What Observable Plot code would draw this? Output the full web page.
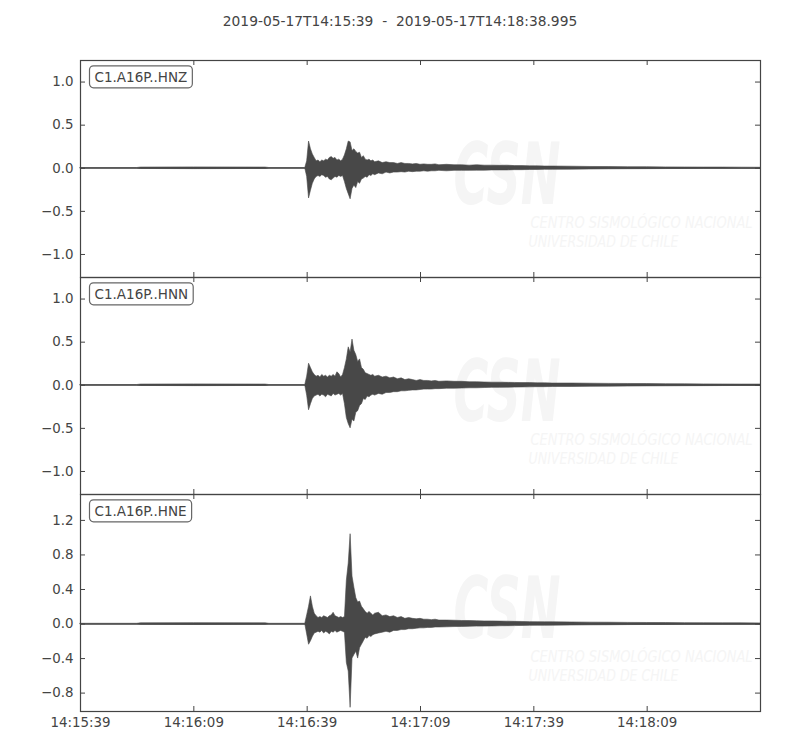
<!DOCTYPE html>
<html>
<head>
<meta charset="utf-8">
<script src="https://cdn.jsdelivr.net/npm/d3@7"></script>
<script src="https://cdn.jsdelivr.net/npm/@observablehq/plot@0.6"></script>
<style>
  body { margin: 0; background: white; font-family: "DejaVu Sans", sans-serif; }
  #title { height: 46px; padding-top: 13px; line-height: 16px; font-size: 13.8px; color: #444; text-align: center; white-space: pre; }
  #chart svg { display: block; }
  #chart svg + svg { margin-top: -2px; }
</style>
</head>
<body>
<div id="title">2019-05-17T14:15:39  -  2019-05-17T14:18:38.995</div>
<div id="chart"></div>
<script>
// seconds after 14:15:39
const times = [0, 15, 16, 30, 49, 50, 59.5,
  60, 60.5, 61, 61.5, 62, 62.5, 63, 63.5, 64, 64.5, 65, 65.5, 66, 66.5, 67, 67.5, 68, 68.5, 69, 69.5,
  70, 70.5, 71, 71.5, 72, 72.5, 73, 73.5, 74, 74.5, 75, 75.5, 76, 76.5, 77, 77.5, 78,
  79, 80, 81, 82, 83, 84, 85, 86, 87, 88, 89, 90, 91, 92, 93, 94, 95,
  97, 99, 101, 103, 105, 107, 109, 111, 113, 115, 117, 119, 121, 123, 125,
  130, 135, 140, 145, 150, 155, 160, 165, 170, 175, 180];

// envelope of each trace (upper / lower)
const hnzTop = [0.003, 0.003, 0.008, 0.01, 0.008, 0.003, 0.003,
  0.08, 0.31, 0.22, 0.16, 0.12, 0.08, 0.09, 0.07, 0.09, 0.08, 0.1, 0.09, 0.12, 0.13, 0.11, 0.12, 0.09, 0.1, 0.08, 0.1,
  0.15, 0.22, 0.31, 0.3, 0.2, 0.22, 0.19, 0.17, 0.18, 0.12, 0.14, 0.1, 0.09, 0.1, 0.08, 0.09, 0.07,
  0.08, 0.06, 0.07, 0.06, 0.06, 0.05, 0.06, 0.05, 0.05, 0.045, 0.05, 0.04, 0.045, 0.04, 0.04, 0.045, 0.035,
  0.04, 0.035, 0.035, 0.03, 0.035, 0.03, 0.03, 0.028, 0.03, 0.025, 0.025, 0.022, 0.022, 0.02, 0.02,
  0.018, 0.015, 0.014, 0.012, 0.012, 0.01, 0.009, 0.008, 0.008, 0.007, 0.006];
const hnzBot = [-0.003, -0.003, -0.008, -0.01, -0.008, -0.003, -0.003,
  -0.1, -0.35, -0.26, -0.18, -0.13, -0.1, -0.09, -0.1, -0.08, -0.09, -0.11, -0.1, -0.13, -0.14, -0.12, -0.1, -0.11, -0.09, -0.1, -0.09,
  -0.16, -0.24, -0.3, -0.36, -0.24, -0.2, -0.23, -0.16, -0.18, -0.13, -0.12, -0.1, -0.11, -0.08, -0.09, -0.07, -0.08,
  -0.06, -0.07, -0.05, -0.06, -0.05, -0.05, -0.045, -0.05, -0.04, -0.045, -0.04, -0.04, -0.035, -0.04, -0.035, -0.035, -0.03,
  -0.035, -0.03, -0.03, -0.03, -0.028, -0.028, -0.025, -0.025, -0.025, -0.022, -0.022, -0.02, -0.02, -0.018, -0.018,
  -0.016, -0.014, -0.012, -0.011, -0.01, -0.009, -0.008, -0.007, -0.007, -0.006, -0.006];

const hnnTop = [0.003, 0.003, 0.008, 0.01, 0.008, 0.003, 0.003,
  0.1, 0.25, 0.2, 0.15, 0.12, 0.1, 0.11, 0.09, 0.12, 0.1, 0.11, 0.09, 0.11, 0.1, 0.12, 0.1, 0.15, 0.13, 0.09, 0.12,
  0.2, 0.3, 0.44, 0.38, 0.53, 0.4, 0.35, 0.27, 0.3, 0.2, 0.18, 0.14, 0.13, 0.12, 0.11, 0.12, 0.1,
  0.11, 0.09, 0.1, 0.08, 0.09, 0.07, 0.08, 0.06, 0.07, 0.06, 0.05, 0.06, 0.05, 0.05, 0.045, 0.05, 0.04,
  0.045, 0.04, 0.04, 0.035, 0.035, 0.032, 0.03, 0.03, 0.028, 0.027, 0.025, 0.025, 0.022, 0.022, 0.02,
  0.02, 0.018, 0.016, 0.015, 0.014, 0.012, 0.011, 0.01, 0.009, 0.008, 0.008];
const hnnBot = [-0.003, -0.003, -0.008, -0.01, -0.008, -0.003, -0.003,
  -0.12, -0.29, -0.22, -0.16, -0.13, -0.12, -0.11, -0.13, -0.11, -0.12, -0.14, -0.11, -0.12, -0.13, -0.1, -0.12, -0.11, -0.1, -0.12, -0.1,
  -0.22, -0.38, -0.45, -0.5, -0.4, -0.42, -0.32, -0.3, -0.24, -0.22, -0.16, -0.17, -0.13, -0.14, -0.12, -0.11, -0.12,
  -0.1, -0.11, -0.09, -0.09, -0.08, -0.08, -0.07, -0.07, -0.065, -0.06, -0.06, -0.055, -0.05, -0.05, -0.05, -0.045, -0.045,
  -0.04, -0.04, -0.038, -0.035, -0.035, -0.032, -0.03, -0.03, -0.028, -0.027, -0.025, -0.024, -0.022, -0.022, -0.02,
  -0.02, -0.018, -0.016, -0.015, -0.013, -0.012, -0.011, -0.01, -0.009, -0.008, -0.008];

const hneTop = [0.003, 0.003, 0.008, 0.01, 0.008, 0.003, 0.003,
  0.1, 0.2, 0.32, 0.2, 0.12, 0.09, 0.07, 0.08, 0.07, 0.09, 0.08, 0.07, 0.09, 0.1, 0.13, 0.09, 0.08, 0.07, 0.08, 0.07,
  0.08, 0.5, 0.7, 1.04, 0.55, 0.42, 0.3, 0.25, 0.26, 0.2, 0.17, 0.14, 0.12, 0.14, 0.12, 0.1, 0.12,
  0.13, 0.09, 0.1, 0.08, 0.09, 0.07, 0.08, 0.06, 0.07, 0.06, 0.055, 0.06, 0.05, 0.05, 0.045, 0.05, 0.04,
  0.04, 0.038, 0.035, 0.035, 0.032, 0.03, 0.03, 0.028, 0.027, 0.025, 0.024, 0.022, 0.021, 0.02, 0.02,
  0.018, 0.016, 0.015, 0.013, 0.012, 0.011, 0.01, 0.009, 0.008, 0.008, 0.007];
const hneBot = [-0.003, -0.003, -0.008, -0.01, -0.008, -0.003, -0.003,
  -0.12, -0.24, -0.2, -0.15, -0.11, -0.1, -0.09, -0.1, -0.08, -0.11, -0.09, -0.1, -0.12, -0.09, -0.1, -0.08, -0.1, -0.09, -0.08, -0.09,
  -0.1, -0.45, -0.55, -0.97, -0.4, -0.36, -0.32, -0.4, -0.28, -0.24, -0.2, -0.16, -0.17, -0.14, -0.15, -0.13, -0.12,
  -0.11, -0.1, -0.09, -0.1, -0.08, -0.08, -0.07, -0.07, -0.06, -0.06, -0.055, -0.05, -0.05, -0.045, -0.045, -0.04, -0.04,
  -0.038, -0.035, -0.034, -0.032, -0.03, -0.03, -0.028, -0.027, -0.025, -0.024, -0.022, -0.021, -0.02, -0.02, -0.019,
  -0.017, -0.015, -0.014, -0.012, -0.011, -0.01, -0.009, -0.008, -0.008, -0.007, -0.007];

const channels = ["C1.A16P..HNZ", "C1.A16P..HNN", "C1.A16P..HNE"];
const xTicks = [0, 30, 60, 90, 120, 150];
const xTickLabels = ["14:15:39", "14:16:09", "14:16:39", "14:17:09", "14:17:39", "14:18:09"];
const yTicksZN = [-1, -0.5, 0, 0.5, 1];
const yTicksE = [-0.8, -0.4, 0, 0.4, 0.8, 1.2];
const yDomainZN = [-1.267, 1.25];
const yDomainE = [-1.013, 1.5];
const watermark = ["CSN", "CENTRO SISMOLÓGICO NACIONAL", "UNIVERSIDAD DE CHILE"];
const watermarkWidths = [107, 222, 150];

const ink = "#444";
const trace = "#484848";
const faint = "#f5f5f5";
const panelH = 217;
const wmFont = "DejaVu Sans Condensed, DejaVu Sans, sans-serif";

function panel(name, top, bot, yDomain, yTicks, last) {
  const data = times.map((t, i) => ({t, hi: top[i], lo: bot[i]}));
  const marks = [
    Plot.text([watermark[0]], {frameAnchor: "top-left", dx: 373, dy: 116, text: d => d, fill: faint,
      fontSize: 86, fontWeight: "bold", fontStyle: "italic", textAnchor: "start", lineAnchor: "middle",
      fontFamily: wmFont}),
    Plot.text([watermark[1]], {frameAnchor: "top-left", dx: 450, dy: 162, text: d => d, fill: faint,
      fontSize: 16, fontStyle: "italic", textAnchor: "start", lineAnchor: "middle", fontFamily: wmFont}),
    Plot.text([watermark[2]], {frameAnchor: "top-left", dx: 448, dy: 181, text: d => d, fill: faint,
      fontSize: 16, fontStyle: "italic", textAnchor: "start", lineAnchor: "middle", fontFamily: wmFont}),
    Plot.areaY(data, {x: "t", y1: "lo", y2: "hi", fill: trace, stroke: trace, strokeWidth: 0.6}),
    Plot.ruleY([0], {stroke: trace, strokeWidth: 1.2}),
    // inward ticks on all four sides
    Plot.ruleX(xTicks, {x: d => d, stroke: ink, insetBottom: panelH - 5}),
    Plot.ruleX(xTicks, {x: d => d, stroke: ink, insetTop: panelH - 5}),
    Plot.ruleY(yTicks, {y: d => d, stroke: ink, insetRight: 675}),
    Plot.ruleY(yTicks, {y: d => d, stroke: ink, insetLeft: 675}),
    Plot.axisY(yTicks, {anchor: "left", tickSize: 0, tickPadding: 7, label: null,
      tickFormat: d3.format(".1f"), fill: ink}),
    Plot.text([name], {frameAnchor: "top-left", dx: 14, dy: 17, text: d => d, fill: ink,
      textAnchor: "start", lineAnchor: "middle", fontSize: 13.5}),
    Plot.frame({stroke: ink, strokeWidth: 1.2})
  ];
  if (last) {
    marks.push(Plot.axisX(xTicks, {anchor: "bottom", tickSize: 0, tickPadding: 6, label: null,
      tickFormat: d => xTickLabels[xTicks.indexOf(d)], fill: ink}));
  }
  return Plot.plot({
    width: 800,
    height: panelH + 2 + (last ? 32 : 0),
    marginLeft: 80,
    marginRight: 40,
    marginTop: 1,
    marginBottom: 1 + (last ? 32 : 0),
    x: {domain: [0, 180], axis: last ? undefined : null},
    y: {domain: yDomain},
    style: {fontFamily: "DejaVu Sans", fontSize: "13.4px", color: ink, background: "white", overflow: "visible"},
    marks
  });
}

const chart = d3.select("#chart");
const specs = [
  [channels[0], hnzTop, hnzBot, yDomainZN, yTicksZN, false],
  [channels[1], hnnTop, hnnBot, yDomainZN, yTicksZN, false],
  [channels[2], hneTop, hneBot, yDomainE, yTicksE, true]
];
for (const s of specs) {
  const svg = panel(...s);
  chart.append(() => svg);
  const groups = d3.select(svg).selectAll('g[aria-label="text"]').nodes();
  // squeeze the watermark texts to their widths
  groups.slice(0, 3).forEach((g, i) => {
    d3.select(g).select("text")
      .attr("textLength", watermarkWidths[i])
      .attr("lengthAdjust", "spacingAndGlyphs");
  });
  // rounded box behind the station label
  const g = groups[groups.length - 1];
  const txt = g.querySelector("text");
  const b = txt.getBBox();
  d3.select(g).insert("rect", "text")
    .attr("transform", txt.getAttribute("transform"))
    .attr("x", b.x - 5).attr("y", b.y - 3)
    .attr("width", b.width + 10).attr("height", b.height + 6)
    .attr("rx", 4).attr("fill", "white").attr("stroke", "#666").attr("stroke-width", 1.2);
}
</script>
</body>
</html>
